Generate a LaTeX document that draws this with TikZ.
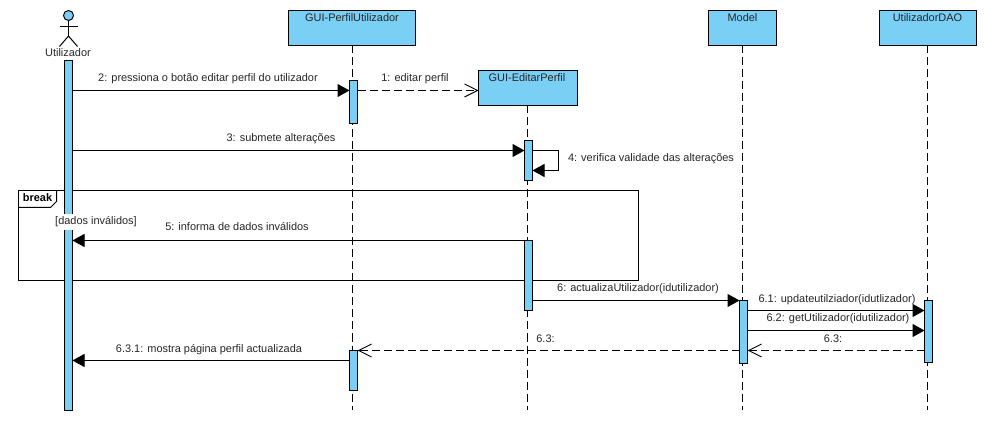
\documentclass[tikz,border=0pt]{standalone}
\usepackage{fontspec}
\setmainfont{Liberation Sans}
\usetikzlibrary{arrows.meta}
\definecolor{umlblue}{HTML}{7ACFF5}
\definecolor{umltext}{HTML}{262626}
\tikzset{
  lifebox/.style={draw=black,fill=umlblue,line width=1pt,minimum height=35pt,outer sep=0pt,anchor=north west,inner sep=0pt},
  boxtitle/.style={anchor=base,text=umltext,font=\fontsize{10.95pt}{12pt}\selectfont,inner sep=0pt},
  msglabel/.style={anchor=base,text=umltext,font=\fontsize{10.95pt}{12pt}\selectfont,inner sep=0pt},
  actbar/.style={draw=black,fill=umlblue,line width=1pt,minimum width=8pt,outer sep=0pt,inner sep=0pt,anchor=north},
  lifeline/.style={draw=black,line width=1pt,dash pattern=on 8pt off 4pt},
  syncmsg/.style={draw=black,line width=1pt,-{Triangle[length=12pt,width=13pt]}},
  replymsg/.style={draw=black,line width=1pt,dash pattern=on 8pt off 4pt,-{Straight Barb[length=13pt,width=13pt,line width=.9pt]}},
  framebox/.style={draw=black,line width=1pt}
}
\begin{document}
\begin{tikzpicture}[x=1pt,y=-1pt]
\useasboundingbox (0,0) rectangle (995,435);
\fill[white] (0,0) rectangle (995,435);

% lifeline heads
\node[lifebox,minimum width=127pt] (perfil) at (288.5,10.5) {};
\node[lifebox,minimum width=99pt] (editar) at (478.5,70.5) {};
\node[lifebox,minimum width=68pt] (model) at (708.5,10.5) {};
\node[lifebox,minimum width=97pt] (dao) at (879.5,10.5) {};
\node[boxtitle] (perfilT) at (352,22) {GUI-PerfilUtilizador};
\node[boxtitle] (editarT) at (527,82) {GUI-EditarPerfil};
\node[boxtitle] (modelT) at (742.5,22) {Model};
\node[boxtitle] (daoT) at (927.5,22) {UtilizadorDAO};

% actor
\node[draw=black,fill=umlblue,circle,line width=1pt,minimum size=10pt,inner sep=0pt,outer sep=0pt] (head) at (68.5,15.5) {};
\coordinate (hip) at (68.5,36);
\coordinate (armL) at (59.5,26.5);
\coordinate (armR) at (77.5,26.5);
\coordinate (legL) at (59.5,46.5);
\coordinate (legR) at (77.5,46.5);
\draw[line width=1pt] (head.south) -- (hip);
\draw[line width=1pt] (armL) -- (armR);
\draw[line width=1pt] (legL) -- (hip) -- (legR);
\node[boxtitle] (actorT) at (68,57) {Utilizador};

% lifelines
\coordinate (perfilEnd) at (352.5,410);
\coordinate (editarEnd) at (527.5,410);
\coordinate (modelEnd) at (742.5,410);
\coordinate (daoEnd) at (927.5,410);
\draw[lifeline] (perfil.south -| perfilEnd) -- (perfilEnd);
\draw[lifeline] (editar.south -| editarEnd) -- (editarEnd);
\draw[lifeline] (model.south -| modelEnd) -- (modelEnd);
\draw[lifeline] (dao.south -| daoEnd) -- (daoEnd);

% break fragment
\draw[framebox] (18.5,190.5) rectangle (638.5,280.5);
\draw[framebox] (18.5,207.5) -- (50.5,207.5) -- (56.5,201.5) -- (56.5,190.5);

% activation bars
\node[actbar,minimum height=350pt] (barU) at (68.5,60.5) {};
\node[actbar,minimum height=43pt] (barP1) at (353.5,80.5) {};
\node[actbar,minimum height=40pt] (barE1) at (528.5,140.5) {};
\node[actbar,minimum height=70pt] (barE2) at (528.5,240.5) {};
\node[actbar,minimum height=63pt] (barM) at (743.5,300.5) {};
\node[actbar,minimum height=62pt] (barD) at (928.5,300.5) {};
\node[actbar,minimum height=40pt] (barP2) at (353.5,350.5) {};

\node[boxtitle,font=\fontsize{10.95pt}{12pt}\selectfont\bfseries,text=black] (breakT) at (37.5,202) {break};
\node[msglabel,fill=white,inner xsep=1pt,inner ysep=3pt] (guard) at (96,225) {[dados inválidos]};

% messages
\draw[syncmsg] (barU.east |- 0,90.5) -- (barP1.west |- 0,90.5);
\draw[replymsg] (barP1.east |- 0,90.5) -- (editar.west |- 0,90.5);
\draw[syncmsg] (barU.east |- 0,150.5) -- (barE1.west |- 0,150.5);
\coordinate (selfA) at (558.5,150.5);
\coordinate (selfB) at (558.5,170.5);
\draw[syncmsg] (barE1.east |- selfA) -- (selfA) -- (selfB) -- (barE1.east |- selfB);
\draw[syncmsg] (barE2.west |- 0,240.5) -- (barU.east |- 0,240.5);
\draw[syncmsg] (barE2.east |- 0,300.5) -- (barM.west |- 0,300.5);
\draw[syncmsg] (barM.east |- 0,310.5) -- (barD.west |- 0,310.5);
\draw[syncmsg] (barM.east |- 0,330.5) -- (barD.west |- 0,330.5);
\draw[replymsg] (barD.west |- 0,350.5) -- (barM.east |- 0,350.5);
\draw[replymsg] (barM.west |- 0,350.5) -- (barP2.east |- 0,350.5);
\draw[syncmsg] (barP2.west |- 0,360.5) -- (barU.east |- 0,360.5);

% message labels
\node[msglabel] (m2) at (208,82) {2: pressiona o botão editar perfil do utilizador};
\node[msglabel] (m1) at (415,82) {1: editar perfil};
\node[msglabel] (m3) at (281,142) {3: submete alterações};
\node[msglabel] (m4) at (651,162) {4: verifica validade das alterações};
\node[msglabel] (m5) at (237,231) {5: informa de dados inválidos};
\node[msglabel] (m6) at (638,292) {6: actualizaUtilizador(idutilizador)};
\node[msglabel] (m61) at (837,302) {6.1: updateutilziador(idutlizador)};
\node[msglabel] (m62) at (838,322) {6.2: getUtilizador(idutilizador)};
\node[msglabel] (m63a) at (833,342) {6.3:};
\node[msglabel] (m63b) at (545.5,342) {6.3:};
\node[msglabel] (m631) at (209,352) {6.3.1: mostra página perfil actualizada};
\end{tikzpicture}
\end{document}
